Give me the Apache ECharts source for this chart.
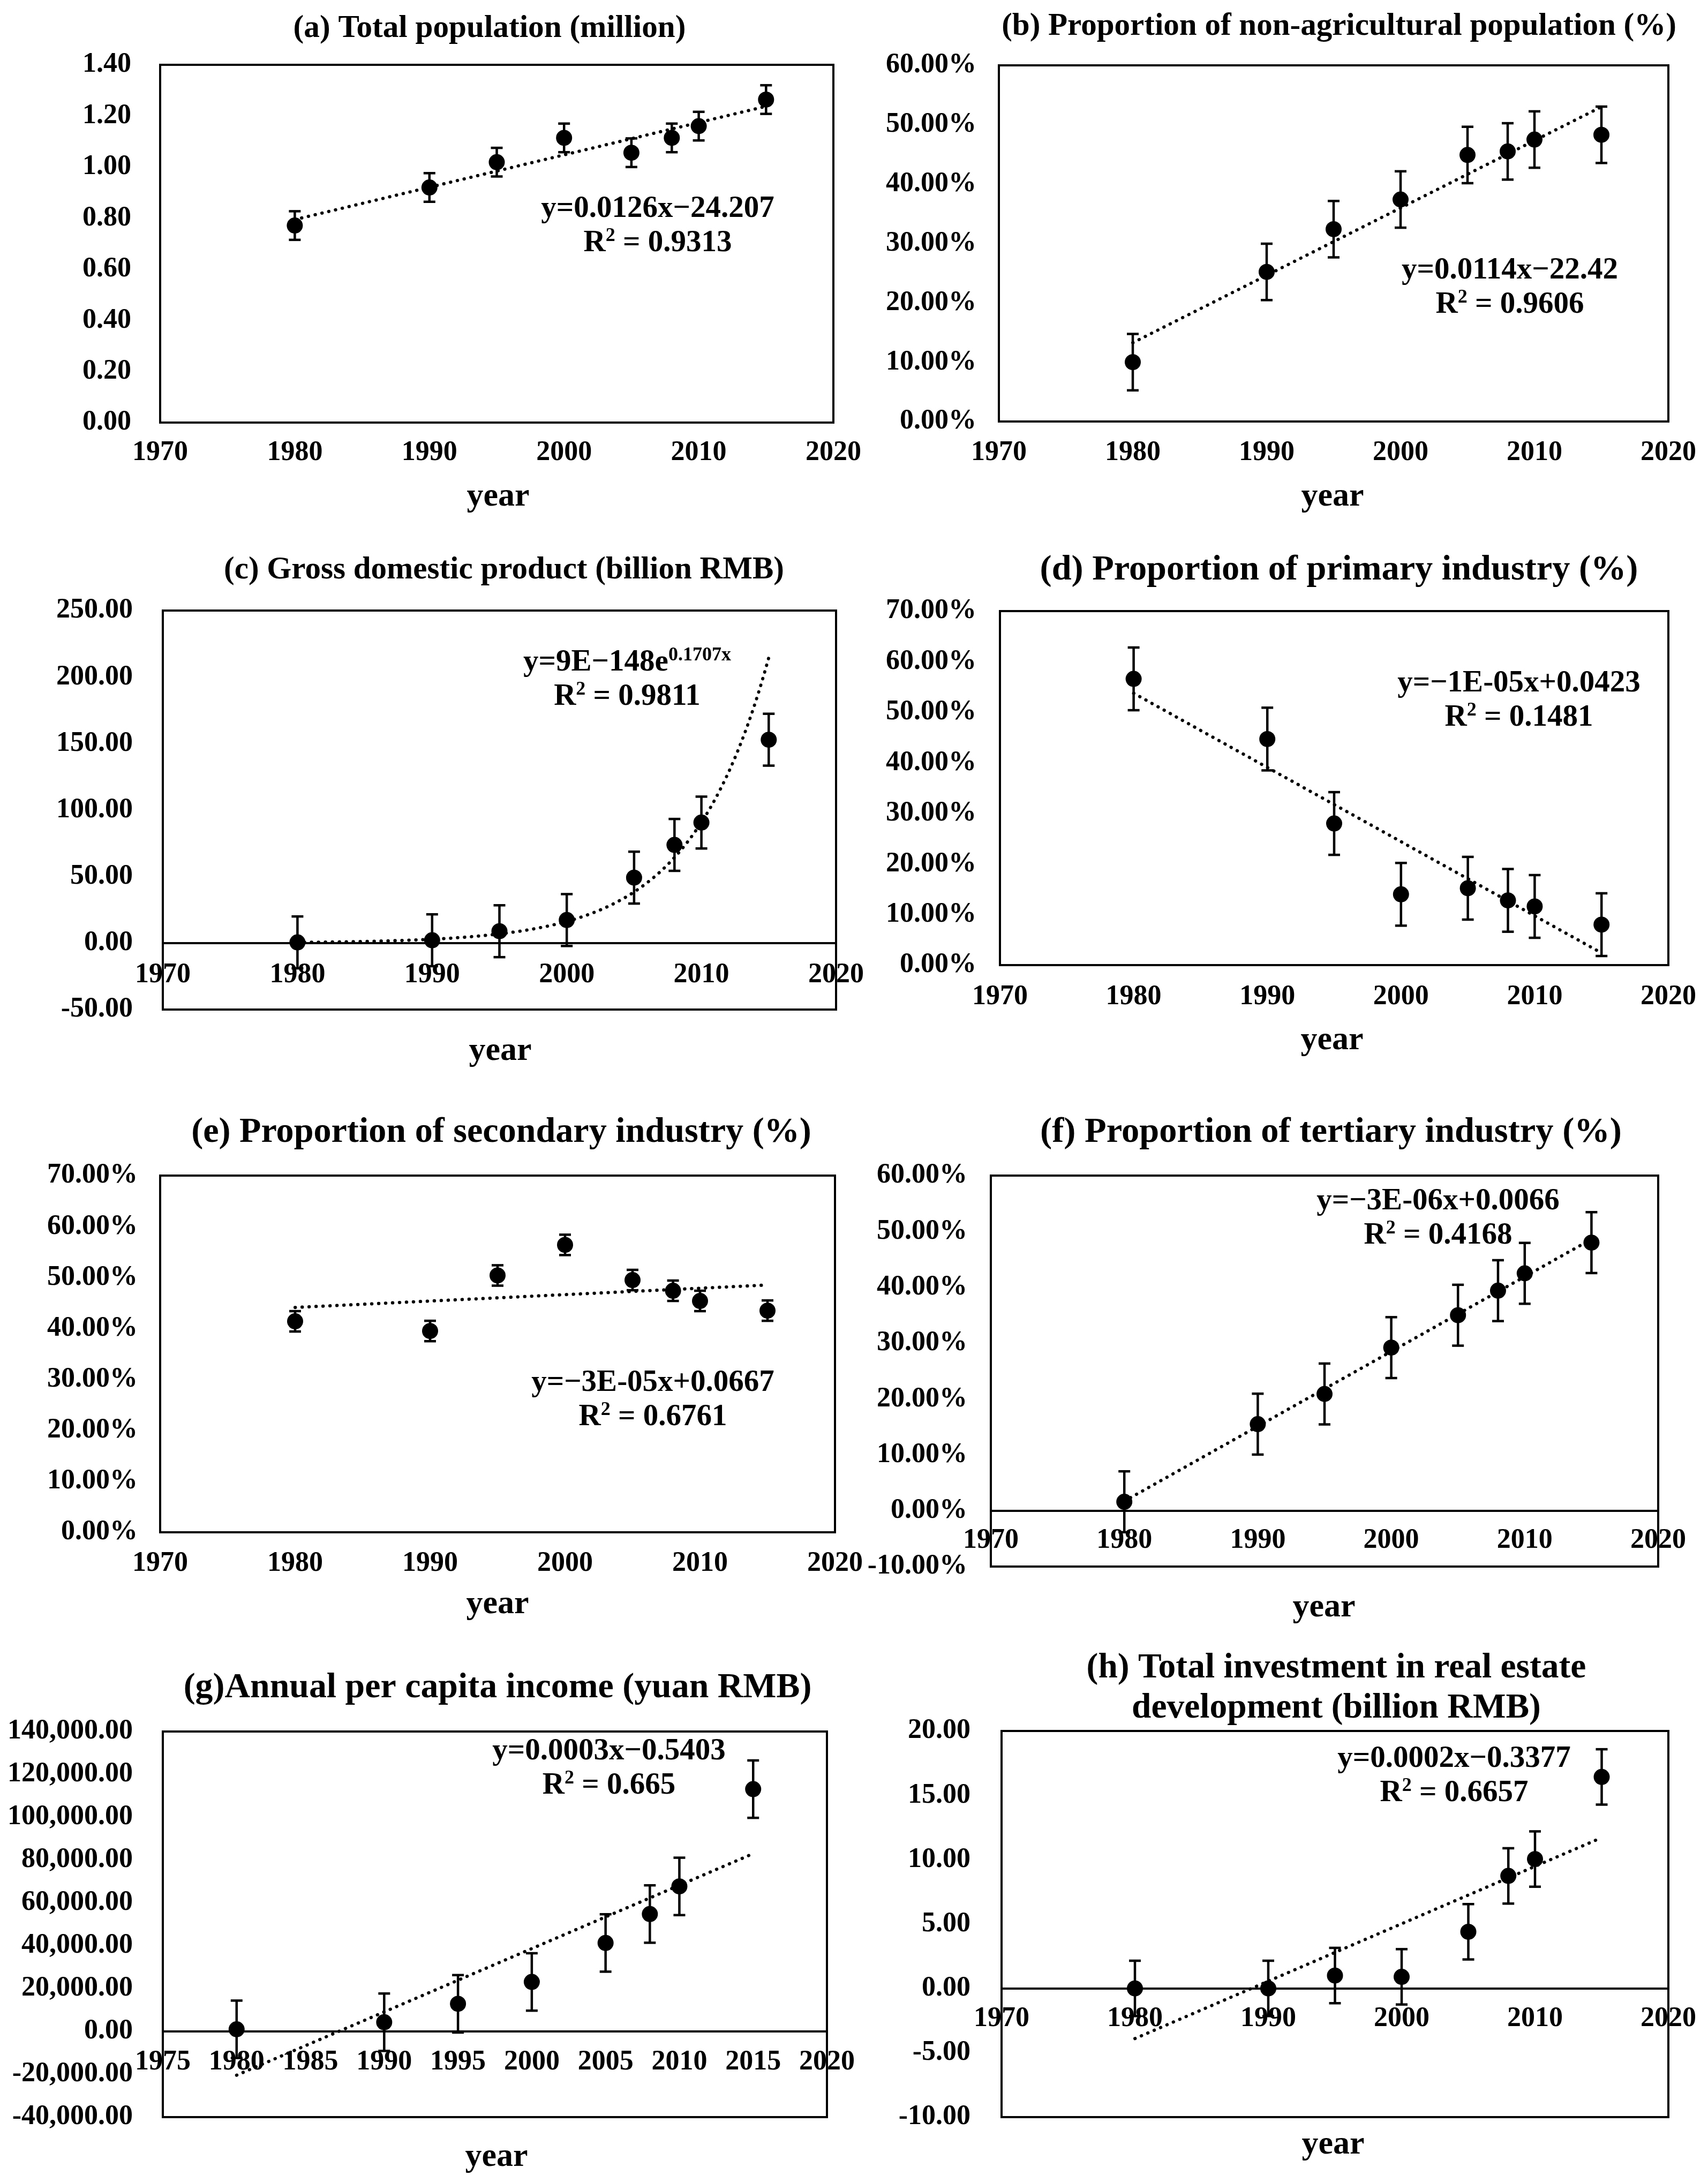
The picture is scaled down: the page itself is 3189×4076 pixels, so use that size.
<!DOCTYPE html>
<html>
<head>
<meta charset="utf-8">
<script src="https://cdn.jsdelivr.net/npm/echarts@6/dist/echarts.min.js"></script>
<style>
html,body{margin:0;padding:0;background:#ffffff;}
#chart{width:3189px;height:4076px;}
</style>
</head>
<body>
<div id="chart"></div>
<script>
// ---------------- data ----------------
const years = [1980, 1990, 1995, 2000, 2005, 2008, 2010, 2015];
const totalPopulation = [0.771, 0.920, 1.019, 1.114, 1.056, 1.114, 1.160, 1.264];        // million
const nonAgriculturalPct = [10.0, 25.2, 32.4, 37.4, 44.9, 45.5, 47.5, 48.3];             // %
const gdp = [0.5, 2.1, 8.9, 17.3, 49.2, 73.8, 90.6, 152.9];                              // billion RMB
const primaryPct = [56.6, 44.7, 28.0, 14.0, 15.2, 12.8, 11.6, 8.0];                      // %
const secondaryPct = [41.4, 39.5, 50.4, 56.4, 49.5, 47.4, 45.4, 43.5];                   // %
const tertiaryPct = [1.6, 15.5, 20.9, 29.2, 35.0, 39.4, 42.5, 48.0];                     // %
const perCapitaIncome = [1000, 4300, 12900, 23100, 41300, 54800, 67700, 113100];         // yuan RMB
const realEstateInvestment = [0.0, 0.0, 1.0, 0.9, 4.4, 8.74, 10.05, 16.43];              // billion RMB
const errorBarSizes = [0.056, 4.75, 19.5, 6.2, 2.0, 5.45, 13400, 2.15];                  // fixed +/- per panel

const titles = [
  '(a) Total population (million)',
  '(b) Proportion of non-agricultural population (%)',
  '(c) Gross domestic product (billion RMB)',
  '(d) Proportion of primary industry (%)',
  '(e) Proportion of secondary industry (%)',
  '(f) Proportion of tertiary industry (%)',
  '(g)Annual per capita income (yuan RMB)',
  '(h) Total investment in real estate\ndevelopment (billion RMB)'
];
const equations = [
  'y=0.0126x\u221224.207',
  'y=0.0114x\u221222.42',
  'y=9E\u2212148e{sup|0.1707x}',
  'y=\u22121E-05x+0.0423',
  'y=\u22123E-05x+0.0667',
  'y=\u22123E-06x+0.0066',
  'y=0.0003x\u22120.5403',
  'y=0.0002x\u22120.3377'
];
const rSquared = ['0.9313', '0.9606', '0.9811', '0.1481', '0.6761', '0.4168', '0.665', '0.6657'];
const xAxisTitle = 'year';

// ---------------- layout / styling ----------------
const FONT = "'Liberation Serif','Times New Roman',serif";
const pct = v => v.toFixed(2) + '%';
const dec2 = v => v.toFixed(2);
const thousands = v => v.toLocaleString('en-US', {minimumFractionDigits: 2, maximumFractionDigits: 2});

const panels = [
  {values: totalPopulation, fit: 'linear', grid: {left: 299, top: 121, width: 1257, height: 668},
   y: [0, 1.4, 0.2], yfmt: dec2, x: [1970, 2020, 10], yGap: 54, xGap: 31,
   title: [914, 54, 733], eq: [1228, 390], year: [930, 928]},
  {values: nonAgriculturalPct, fit: 'linear', grid: {left: 1865, top: 122, width: 1250, height: 665},
   y: [0, 60, 10], yfmt: pct, x: [1970, 2020, 10], yGap: 42, xGap: 33,
   title: [2500, 50, 1260], eq: [2819, 505], year: [2488, 928]},
  {values: gdp, fit: 'exp', grid: {left: 304, top: 1140, width: 1257, height: 745},
   y: [-50, 250, 50], yfmt: dec2, x: [1970, 2020, 10], yGap: 56, xGap: 34,
   title: [941, 1065, 1046], eq: [1171, 1237], year: [934, 1963]},
  {values: primaryPct, fit: 'linear', grid: {left: 1867, top: 1141, width: 1248, height: 661},
   y: [0, 70, 10], yfmt: pct, x: [1970, 2020, 10], yGap: 44, xGap: 34,
   title: [2500, 1065, 1117], eq: [2836, 1276], year: [2487, 1943]},
  {values: secondaryPct, fit: 'linear', grid: {left: 299, top: 2195, width: 1260, height: 666},
   y: [0, 70, 10], yfmt: pct, x: [1970, 2020, 10], yGap: 42, xGap: 33,
   title: [936, 2115, 1158], eq: [1219, 2582], year: [929, 2996]},
  {values: tertiaryPct, fit: 'linear', grid: {left: 1850, top: 2195, width: 1246, height: 730},
   y: [-10, 60, 10], yfmt: pct, x: [1970, 2020, 10], yGap: 44, xGap: 30,
   title: [2485, 2115, 1086], eq: [2685, 2243], year: [2472, 3002]},
  {values: perCapitaIncome, fit: 'linear', grid: {left: 304, top: 3233, width: 1240, height: 720},
   y: [-40000, 140000, 20000], yfmt: thousands, x: [1975, 2020, 5], yGap: 56, xGap: 32,
   title: [929, 3152, 1173], eq: [1137, 3270], year: [927, 4028]},
  {values: realEstateInvestment, fit: 'linear', grid: {left: 1870, top: 3232, width: 1245, height: 721},
   y: [-10, 20, 5], yfmt: dec2, x: [1970, 2020, 10], yGap: 58, xGap: 31,
   title: [2495, 3153, 933], eq: [2715, 3284], year: [2489, 4005]}
];

// ---------------- helpers ----------------
function linearFit(xs, ys) {
  const n = xs.length;
  const mx = xs.reduce((a, b) => a + b, 0) / n;
  const my = ys.reduce((a, b) => a + b, 0) / n;
  let sxy = 0, sxx = 0;
  for (let i = 0; i < n; i++) { sxy += (xs[i] - mx) * (ys[i] - my); sxx += (xs[i] - mx) * (xs[i] - mx); }
  const slope = sxy / sxx;
  return {slope, intercept: my - slope * mx};
}
function trendLine(xs, ys, kind) {
  const x0 = xs[0], x1 = xs[xs.length - 1];
  if (kind === 'exp') {
    const f = linearFit(xs, ys.map(v => Math.log(v)));
    const pts = [];
    for (let x = x0; x <= x1 + 1e-9; x += 0.25) pts.push([x, Math.exp(f.intercept + f.slope * x)]);
    return pts;
  }
  const f = linearFit(xs, ys);
  return [[x0, f.intercept + f.slope * x0], [x1, f.intercept + f.slope * x1]];
}
const measureCtx = document.createElement('canvas').getContext('2d');
function fitFontSize(text, width) {
  measureCtx.font = 'bold 100px ' + FONT;
  const line = text.split('\n')[0];
  return 100 * width / measureCtx.measureText(line).width;
}
function errorBarRender(params, api) {
  const x = api.value(0);
  const top = api.coord([x, api.value(2)]);
  const bot = api.coord([x, api.value(1)]);
  const cap = 11;
  const st = {stroke: '#000', lineWidth: 4.5};
  return {type: 'group', children: [
    {type: 'line', shape: {x1: top[0], y1: top[1], x2: bot[0], y2: bot[1]}, style: st},
    {type: 'line', shape: {x1: top[0] - cap, y1: top[1], x2: top[0] + cap, y2: top[1]}, style: st},
    {type: 'line', shape: {x1: bot[0] - cap, y1: bot[1], x2: bot[0] + cap, y2: bot[1]}, style: st}
  ]};
}

// ---------------- build option ----------------
const grids = [], xAxes = [], yAxes = [], series = [], graphics = [];
const labelBase = {color: '#000', fontFamily: FONT, fontWeight: 'bold', fontSize: 52};

panels.forEach((p, i) => {
  grids.push(Object.assign({show: true, borderColor: '#000', borderWidth: 4, backgroundColor: 'transparent', containLabel: false}, p.grid));
  // x labels sit just under the zero line (Excel style); the axis labels are laid out from the grid bottom
  const zeroOffset = (0 - p.y[0]) / (p.y[1] - p.y[0]) * p.grid.height;
  xAxes.push({
    type: 'value', gridIndex: i, min: p.x[0], max: p.x[1], interval: p.x[2],
    axisLine: {show: true, onZero: true, lineStyle: {color: '#000', width: 4}},
    axisTick: {show: false}, splitLine: {show: false},
    axisLabel: Object.assign({}, labelBase, {margin: p.xGap - zeroOffset, formatter: v => String(v), showMinLabel: true, showMaxLabel: true})
  });
  yAxes.push({
    type: 'value', gridIndex: i, min: p.y[0], max: p.y[1], interval: p.y[2],
    axisLine: {show: false}, axisTick: {show: false}, splitLine: {show: false},
    axisLabel: Object.assign({}, labelBase, {margin: p.yGap, formatter: p.yfmt, showMinLabel: true, showMaxLabel: true})
  });
  const err = errorBarSizes[i];
  series.push({
    type: 'custom', xAxisIndex: i, yAxisIndex: i, z: 2, silent: true,
    renderItem: errorBarRender, encode: {x: 0, y: [1, 2]},
    data: years.map((yr, k) => [yr, p.values[k] - err, p.values[k] + err])
  });
  series.push({
    type: 'line', xAxisIndex: i, yAxisIndex: i, z: 3, silent: true,
    showSymbol: false, symbol: 'none', smooth: false,
    lineStyle: {color: '#000', width: 6, type: [0.5, 12.5], cap: 'round'},
    data: trendLine(years, p.values, p.fit)
  });
  series.push({
    type: 'scatter', xAxisIndex: i, yAxisIndex: i, z: 4, silent: true,
    symbol: 'circle', symbolSize: 30, itemStyle: {color: '#000', opacity: 1},
    data: years.map((yr, k) => [yr, p.values[k]])
  });

  const tsize = fitFontSize(titles[i], p.title[2]);
  graphics.push({type: 'text', x: p.title[0], y: p.title[1], silent: true,
    style: {text: titles[i], align: 'center', verticalAlign: 'middle', fill: '#000',
      fontFamily: FONT, fontWeight: 'bold', fontSize: tsize, lineHeight: 75}});
  const rich = {sup: {fontSize: 36, fontFamily: FONT, fontWeight: 'bold', fill: '#000', verticalAlign: 'top', lineHeight: 40}};
  graphics.push({type: 'text', x: p.eq[0], y: p.eq[1], silent: true,
    style: {text: equations[i], align: 'center', verticalAlign: 'middle', fill: '#000',
      fontFamily: FONT, fontWeight: 'bold', fontSize: 57, lineHeight: 62, rich: rich}});
  graphics.push({type: 'text', x: p.eq[0], y: p.eq[1] + 64, silent: true,
    style: {text: 'R{sup|2} = ' + rSquared[i], align: 'center', verticalAlign: 'middle', fill: '#000',
      fontFamily: FONT, fontWeight: 'bold', fontSize: 57, lineHeight: 62, rich: rich}});
  graphics.push({type: 'text', x: p.year[0], y: p.year[1], silent: true,
    style: {text: xAxisTitle, align: 'center', verticalAlign: 'middle', fill: '#000',
      fontFamily: FONT, fontWeight: 'bold', fontSize: 62}});
});

const chart = echarts.init(document.getElementById('chart'), null, {renderer: 'canvas'});
chart.setOption({
  backgroundColor: '#ffffff',
  animation: false,
  grid: grids, xAxis: xAxes, yAxis: yAxes, series: series, graphic: graphics
});
</script>
</body>
</html>
